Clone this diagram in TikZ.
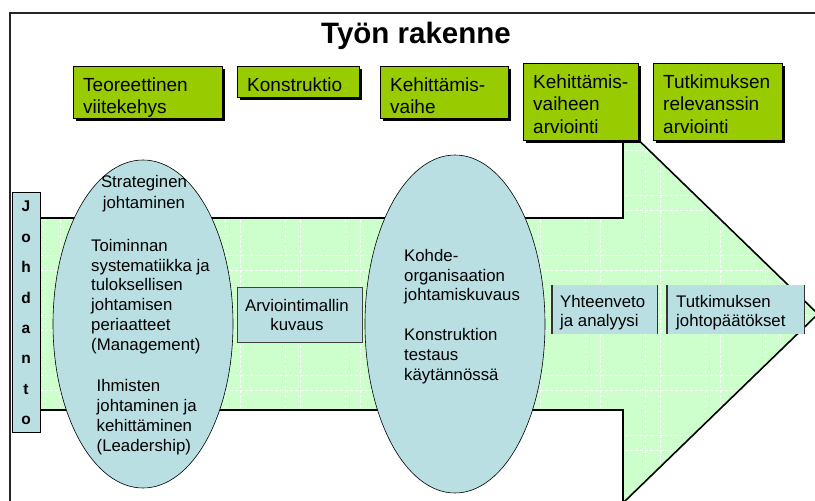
\documentclass[tikz,border=0pt]{standalone}
\usepackage{fontspec}
\setmainfont{Liberation Sans}
\usetikzlibrary{shapes.geometric,calc,shadows}
\definecolor{phasegreen}{HTML}{99CC00}
\definecolor{paleblue}{HTML}{B9DFE3}
\definecolor{arrowgreen}{HTML}{CCFFCC}
\begin{document}
\begin{tikzpicture}[x=1pt,y=-1pt,
  frameline/.style={draw=black!85, line width=2pt},
  phase/.style={draw=black, line width=0.6pt, fill=phasegreen, anchor=north west,
    inner sep=0pt, drop shadow={shadow xshift=2.5pt, shadow yshift=-2.5pt, opacity=1, fill=black}},
  phasetext/.style={anchor=north west, align=left, inner sep=0pt, font=\fontsize{19}{22.5}\selectfont},
  bubble/.style={ellipse, draw=black, line width=0.6pt, fill=paleblue, inner sep=0pt},
  bodytext/.style={inner sep=0pt, font=\fontsize{16.8}{20}\selectfont},
  stagebox/.style={fill=paleblue, anchor=north west, inner sep=0pt},
  stageedge/.style={draw=black!80, line width=1.2pt},
  gridline/.style={draw=white, line width=0.7pt, dash pattern=on 3pt off 2pt},
  arrowline/.style={draw=black, line width=1.6pt, line join=miter},
]
\useasboundingbox (0,0) rectangle (815,501);
\clip (0,0) rectangle (815,501);
\fill[white] (0,0) rectangle (815,501);

% outer frame
\draw[frameline] (10,505) -- (10,13) -- (820,13);

% title
\node[anchor=base, inner sep=0pt, font=\fontsize{29.5}{34}\selectfont\bfseries] (title) at (416,43) {Työn rakenne};

% big arrow
\coordinate (a1) at (30,218);
\coordinate (a2) at (623,218);
\coordinate (a3) at (623,125);
\coordinate (a4) at (818,314);
\coordinate (a5) at (623,503);
\coordinate (a6) at (623,410);
\coordinate (a7) at (30,410);
\begin{scope}
  \clip (a1) -- (a2) -- (a3) -- (a4) -- (a5) -- (a6) -- (a7) -- cycle;
  \fill[arrowgreen] (0,100) rectangle (830,510);
  \foreach \k in {0,...,14} {
    \draw[gridline] (60*\k,100) -- (60*\k,510);
    \draw[gridline] (60*\k+45,100) -- (60*\k+45,510);
  }
  \foreach \k in {0,...,8} {
    \draw[gridline] (0,60*\k+30) -- (830,60*\k+30);
    \draw[gridline] (0,60*\k+15) -- (830,60*\k+15);
  }
\end{scope}
\draw[arrowline] (a1) -- (a2) -- (a3) -- (a4) -- (a5) -- (a6) -- (a7) -- cycle;

% ellipses
\node[bubble, minimum width=180pt, minimum height=328pt] (theory) at (143,324) {};
\node[bubble, minimum width=180pt, minimum height=338pt] (testing) at (455,324) {};

\node[bodytext, anchor=north, align=center, font=\fontsize{16.8}{21}\selectfont] (strat) at (144,175) {Strateginen\\johtaminen};
\node[bodytext, anchor=north west, align=left, font=\fontsize{16.8}{19.8}\selectfont] (mgmt) at (91,239)
  {Toiminnan\\systematiikka ja\\tuloksellisen\\johtamisen\\periaatteet\\(Management)};
\node[bodytext, anchor=north west, align=left] (lead) at (96.5,379)
  {Ihmisten\\johtaminen ja\\kehittäminen\\(Leadership)};
\node[bodytext, anchor=north west, align=left, font=\fontsize{16.8}{19.8}\selectfont] (target) at (404,249)
  {Kohde-\\organisaation\\johtamiskuvaus\\[19.8pt]Konstruktion\\testaus\\käytännössä};

% stage boxes on the arrow
\node[stagebox, draw=black!75, line width=0.6pt, minimum width=125pt, minimum height=55pt] (model) at (237,287) {};
\node[bodytext, anchor=north, align=center, font=\fontsize{16.8}{19}\selectfont] (modeltext) at (297,299) {Arviointimallin\\kuvaus};

\node[stagebox, minimum width=105pt, minimum height=49pt] (summary) at (552,285) {};
\draw[stageedge] (summary.north west) -- (summary.south west);
\draw[stageedge] (summary.north east) -- (summary.south east);
\node[bodytext, anchor=north west, align=left, font=\fontsize{16.8}{19}\selectfont] (summarytext) at (560,295) {Yhteenveto\\ja analyysi};

\node[stagebox, minimum width=137pt, minimum height=49pt] (concl) at (667,285) {};
\draw[stageedge] (concl.north west) -- (concl.south west);
\draw[stageedge] (concl.north east) -- (concl.south east);
\node[bodytext, anchor=north west, align=left, font=\fontsize{16.8}{19}\selectfont] (concltext) at (676,295) {Tutkimuksen\\johtopäätökset};

% introduction bar
\node[stagebox, draw=black, line width=0.8pt, minimum width=28pt, minimum height=240pt] (intro) at (12,192) {};
\node[anchor=north, align=center, inner sep=0pt, font=\fontsize{15.5}{30.4}\selectfont\bfseries] (introtext) at (26,201)
  {J\\o\\h\\d\\a\\n\\t\\o};

% phase headings
\node[phase, minimum width=149pt, minimum height=52pt] (p1) at (73,66) {};
\node[phase, minimum width=122pt, minimum height=31pt] (p2) at (237,66) {};
\node[phase, minimum width=128pt, minimum height=52pt] (p3) at (380,66) {};
\node[phase, minimum width=115pt, minimum height=77pt] (p4) at (523,63) {};
\node[phase, minimum width=129pt, minimum height=77pt] (p5) at (653,63) {};

\node[phasetext] (p1text) at ($(p1.north west)+(10,11.5)$) {Teoreettinen\\viitekehys};
\node[phasetext] (p2text) at ($(p2.north west)+(10,11.5)$) {Konstruktio};
\node[phasetext] (p3text) at ($(p3.north west)+(10,11.5)$) {Kehittämis-\\vaihe};
\node[phasetext] (p4text) at ($(p4.north west)+(10,11.5)$) {Kehittämis-\\vaiheen\\arviointi};
\node[phasetext] (p5text) at ($(p5.north west)+(10,11.5)$) {Tutkimuksen\\relevanssin\\arviointi};
\end{tikzpicture}
\end{document}
